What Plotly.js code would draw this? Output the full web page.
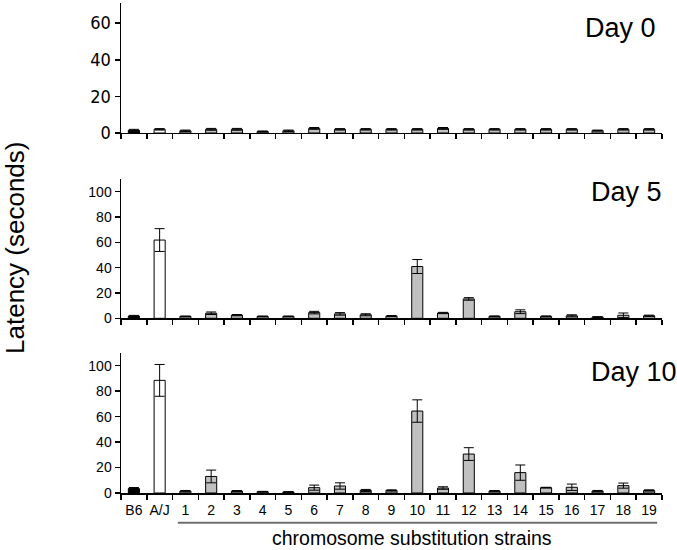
<!DOCTYPE html>
<html><head><meta charset="utf-8">
<script src="https://cdn.plot.ly/plotly-3.0.1.min.js"></script>
<style>html,body{margin:0;padding:0;background:#fff}</style>
</head><body><div id="chart" style="width:677px;height:550px"></div>
<script>
const categories = ['B6','A/J','1','2','3','4','5','6','7','8','9','10','11','12','13','14','15','16','17','18','19'];

const day0 = [1.5, 2.0, 1.2, 2.0, 2.0, 0.8, 1.2, 2.5, 2.0, 2.0, 2.0, 2.0, 2.5, 2.0, 2.0, 2.0, 2.0, 2.0, 1.3, 2.0, 2.0];
const day0Err = [0.5, 0.4, 0.4, 0.5, 0.5, 0.3, 0.4, 0.5, 0.4, 0.4, 0.4, 0.4, 0.5, 0.4, 0.4, 0.4, 0.4, 0.4, 0.3, 0.4, 0.4];

const day5 = [1.8, 61.8, 1.5, 4.0, 2.5, 1.5, 1.5, 4.5, 3.5, 2.8, 1.8, 40.9, 4.2, 15.3, 1.5, 5.2, 1.5, 2.0, 1.0, 2.4, 2.0];
const day5Err = [0.5, 9.0, 0.3, 1.0, 0.5, 0.3, 0.3, 1.0, 1.0, 0.8, 0.4, 5.5, 0.5, 1.0, 0.4, 1.5, 0.4, 0.8, 0.3, 1.8, 0.5];

const day10 = [3.5, 88.5, 1.5, 13.0, 1.5, 1.0, 0.8, 4.2, 5.5, 2.0, 2.0, 64.4, 3.9, 30.6, 1.5, 16.0, 4.2, 4.5, 1.5, 5.8, 2.0];
const day10Err = [0.8, 12.5, 0.5, 5.0, 0.4, 0.3, 0.3, 2.0, 2.5, 0.8, 0.5, 8.8, 1.0, 5.0, 0.4, 6.0, 0.3, 2.5, 0.5, 2.0, 0.5];

const dayLabels = ['Day 0', 'Day 5', 'Day 10'];

const fills = categories.map(c => c === 'B6' ? '#000000' : (c === 'A/J' ? '#ffffff' : '#c0c0c0'));

function barTrace(vals, errs, xa, ya) {
  return {
    type: 'bar', x: categories, y: vals, xaxis: xa, yaxis: ya,
    marker: {color: fills, line: {color: '#000', width: 1}},
    error_y: {type: 'data', array: errs, visible: true, color: '#000', thickness: 1, width: 5},
    hoverinfo: 'skip', showlegend: false
  };
}

const data = [
  barTrace(day0, day0Err, 'x', 'y'),
  barTrace(day5, day5Err, 'x2', 'y2'),
  barTrace(day10, day10Err, 'x3', 'y3')
];

const baseFont = 'Liberation Sans, Arial, sans-serif';
function xAxis(anchor, labels) {
  return {
    anchor: anchor, domain: [0, 1], type: 'category', range: [-0.5, 20.5],
    showline: true, linecolor: '#000', linewidth: 1.5,
    ticks: 'outside', tickson: 'boundaries', ticklen: 5, tickwidth: 1.5, tickcolor: '#000',
    showgrid: false, zeroline: false, showticklabels: labels, tickangle: 0, ticklabelstandoff: 4,
    tickfont: {family: baseFont, size: 14, color: '#000'}, fixedrange: true
  };
}
function yAxis(anchor, domain, range, fontFamily, fontSize) {
  return {
    anchor: anchor, domain: domain, range: range, dtick: 20, tick0: 0,
    showline: true, linecolor: '#000', linewidth: 1.5,
    ticks: 'outside', ticklen: 5, tickwidth: 1.5, tickcolor: '#000',
    showgrid: false, zeroline: false,
    tickfont: {family: fontFamily, size: fontSize, color: '#000'}, fixedrange: true
  };
}

const layout = {
  width: 677, height: 550,
  margin: {l: 121, r: 15, t: 3, b: 57},
  paper_bgcolor: '#fff', plot_bgcolor: '#fff',
  bargap: 0.57,
  xaxis: xAxis('y', false),
  xaxis2: xAxis('y2', false),
  xaxis3: xAxis('y3', true),
  yaxis: yAxis('x', [0.7347, 1], [0, 71], 'Liberation Sans Narrow, DejaVu Sans Condensed, sans-serif', 18),
  yaxis2: yAxis('x2', [0.3565, 0.6408], [0, 110], baseFont, 14),
  yaxis3: yAxis('x3', [0, 0.2857], [0, 110], baseFont, 14),
  shapes: [
    {type: 'line', xref: 'paper', yref: 'paper', x0: 0.105, x1: 0.991, y0: -0.0606, y1: -0.0606,
     line: {color: '#6f6f6f', width: 2}}
  ],
  annotations: [
    {text: dayLabels[0], xref: 'paper', yref: 'paper', x: 0.854, y: 0.949, xanchor: 'left', yanchor: 'middle',
     showarrow: false, font: {family: baseFont, size: 27, color: '#000'}},
    {text: dayLabels[1], xref: 'paper', yref: 'paper', x: 0.865, y: 0.614, xanchor: 'left', yanchor: 'middle',
     showarrow: false, font: {family: baseFont, size: 27, color: '#000'}},
    {text: dayLabels[2], xref: 'paper', yref: 'paper', x: 0.865, y: 0.247, xanchor: 'left', yanchor: 'middle',
     showarrow: false, font: {family: baseFont, size: 27, color: '#000'}},
    {text: 'chromosome substitution strains', xref: 'paper', yref: 'paper', x: 0.537, y: -0.092,
     xanchor: 'center', yanchor: 'middle', showarrow: false, font: {family: baseFont, size: 19.5, color: '#000'}},
    {text: 'Latency (seconds)', xref: 'paper', yref: 'paper', x: -0.196, y: 0.50, textangle: -90,
     xanchor: 'center', yanchor: 'middle', showarrow: false, font: {family: baseFont, size: 26, color: '#000'}}
  ]
};

Plotly.newPlot('chart', data, layout, {displayModeBar: false, staticPlot: true});
</script>
</body></html>
